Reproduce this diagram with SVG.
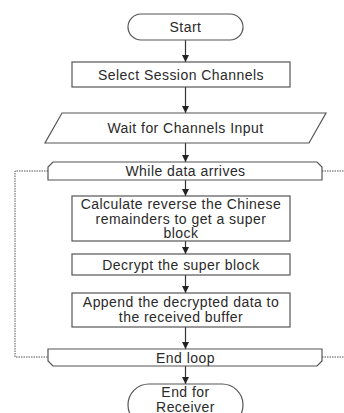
<svg xmlns="http://www.w3.org/2000/svg" width="344" height="413" viewBox="0 0 344 413">
<defs>
<marker id="ah" markerWidth="8" markerHeight="7" refX="7" refY="3.5" orient="auto" markerUnits="userSpaceOnUse">
<path d="M0,0 L7,3.5 L0,7 Z" fill="#222"/>
</marker>
<style>
.s{fill:#fff;stroke:#555;stroke-width:1.2}
.t{font-family:"Liberation Sans",Arial,sans-serif;font-size:14px;letter-spacing:0.45px;fill:#2a2a2a;text-anchor:middle}
.c{stroke:#333;stroke-width:1.2;fill:none}
.d{stroke:#555;stroke-width:1;fill:none;stroke-dasharray:1.5 1}
</style>
</defs>
<rect width="344" height="413" fill="#fff"/>
<g id="connectors">
<line class="c" x1="185.5" y1="40" x2="185.5" y2="62" marker-end="url(#ah)"/>
<line class="c" x1="185.5" y1="87" x2="185.5" y2="113" marker-end="url(#ah)"/>
<line class="c" x1="185.5" y1="143" x2="185.5" y2="162" marker-end="url(#ah)"/>
<line class="c" x1="185.5" y1="180" x2="185.5" y2="196" marker-end="url(#ah)"/>
<line class="c" x1="185.5" y1="241" x2="185.5" y2="254" marker-end="url(#ah)"/>
<line class="c" x1="185.5" y1="275" x2="185.5" y2="293" marker-end="url(#ah)"/>
<line class="c" x1="185.5" y1="327" x2="185.5" y2="349" marker-end="url(#ah)"/>
<line class="c" x1="185.5" y1="366" x2="185.5" y2="384" marker-end="url(#ah)"/>
<polyline class="d" points="48,171 15,171 15,357 48,357"/>
<line class="d" x1="322" y1="171" x2="344" y2="171"/>
<line class="d" x1="322" y1="357" x2="344" y2="357"/>
</g>
<g id="start">
<rect class="s" x="128" y="14" width="115" height="26" rx="13"/>
<text class="t" x="185.5" y="32">Start</text>
</g>
<g id="select">
<rect class="s" x="72" y="62" width="218" height="25"/>
<text class="t" x="181" y="79.5">Select Session Channels</text>
</g>
<g id="wait">
<polygon class="s" points="62,113 326,113 309,143 45,143"/>
<text class="t" x="185.5" y="133">Wait for Channels Input</text>
</g>
<g id="while">
<path class="s" d="M48,180 L48,167 L53,162 L317,162 L322,167 L322,180 Z"/>
<text class="t" x="185.5" y="176">While data arrives</text>
</g>
<g id="calculate">
<rect class="s" x="72" y="196" width="218" height="45"/>
<text class="t" x="181" y="209">Calculate reverse the Chinese</text>
<text class="t" x="181" y="223.5">remainders to get a super</text>
<text class="t" x="181" y="238">block</text>
</g>
<g id="decrypt">
<rect class="s" x="72" y="254" width="218" height="21"/>
<text class="t" x="181" y="269.5">Decrypt the super block</text>
</g>
<g id="append">
<rect class="s" x="72" y="293" width="218" height="34"/>
<text class="t" x="181" y="306.5">Append the decrypted data to</text>
<text class="t" x="181" y="322">the received buffer</text>
</g>
<g id="endloop">
<path class="s" d="M48,349 L322,349 L322,361 L317,366 L53,366 L48,361 Z"/>
<text class="t" x="185.5" y="362.5">End loop</text>
</g>
<g id="end">
<rect class="s" x="128" y="384" width="115" height="42" rx="21"/>
<text class="t" x="185.5" y="397">End for</text>
<text class="t" x="185.5" y="411.5">Receiver</text>
</g>
</svg>
